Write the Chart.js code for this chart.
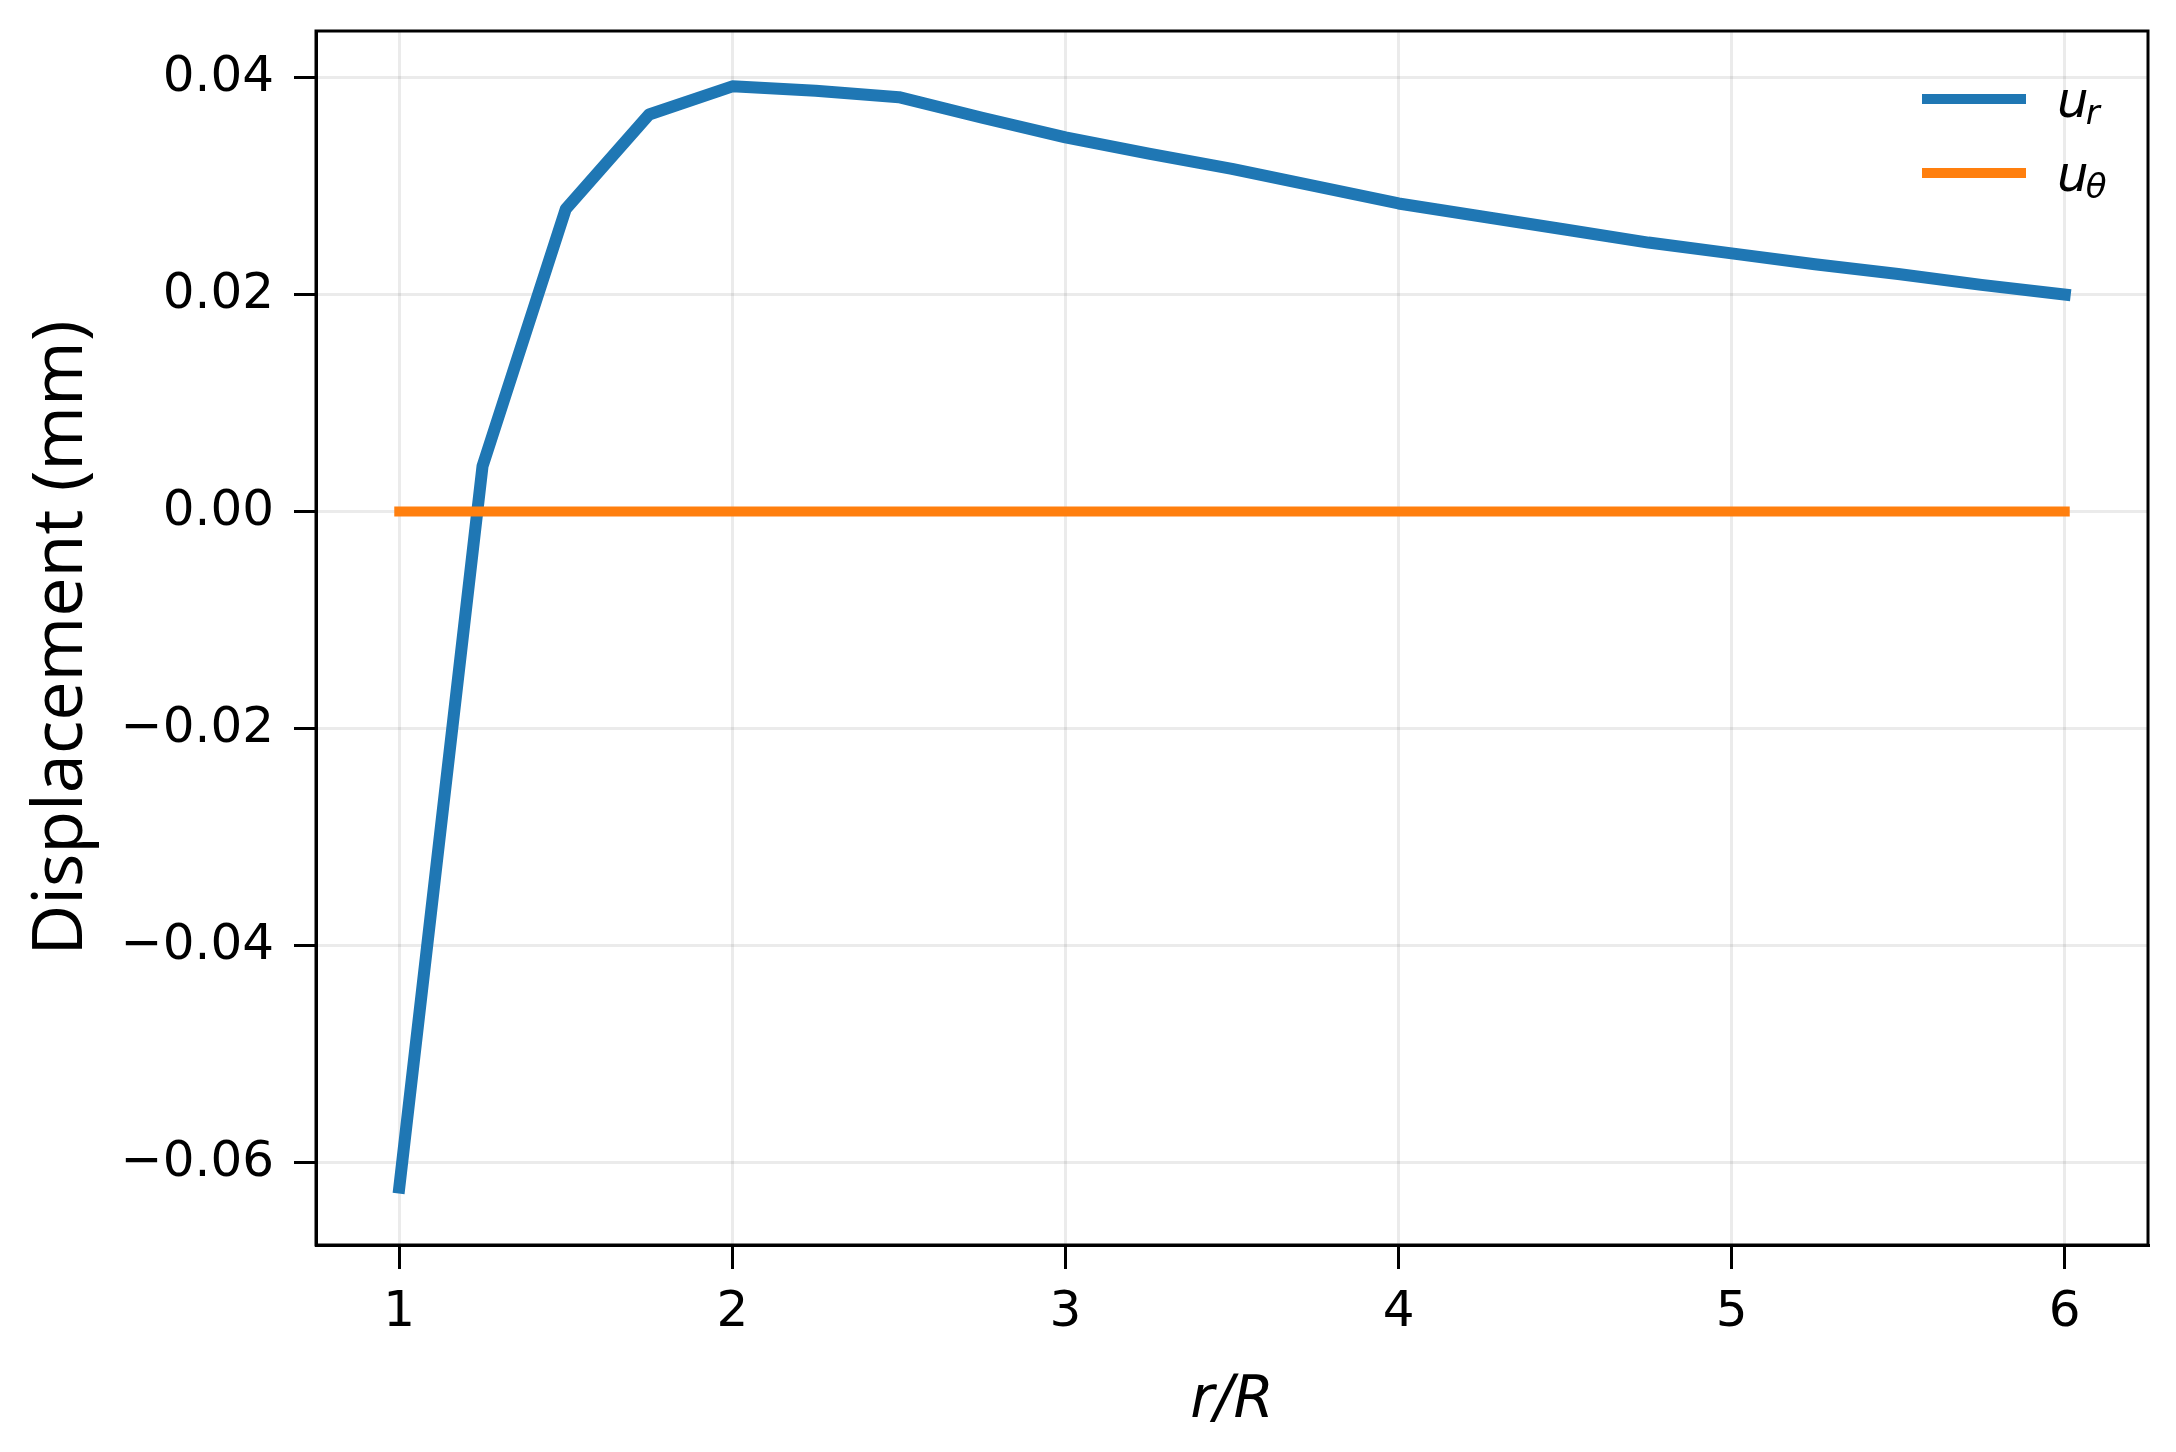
<!DOCTYPE html>
<html>
<head>
<meta charset="utf-8">
<title>Displacement vs r/R</title>
<script src="https://cdn.jsdelivr.net/npm/chart.js@4.4.1/dist/chart.umd.min.js"></script>
<style>
    html, body { margin: 0; padding: 0; background: #fff; }
    #wrap { width: 2176px; height: 1452px; }
</style>
</head>
<body>
<div id="wrap"><canvas id="disp-chart" width="2176" height="1452"></canvas></div>
<script>
/* ===== Data ===== */
var radii = [1, 1.25, 1.5, 1.75, 2, 2.25, 2.5, 2.75, 3, 3.25, 3.5, 3.75, 4, 4.25, 4.5, 4.75, 5, 5.25, 5.5, 5.75, 6];
var radialDisp = [-0.0623, 0.0042, 0.0279, 0.0366, 0.0392, 0.0388, 0.0382, 0.0363, 0.0345, 0.0330, 0.0316, 0.0300,
    0.0284, 0.0272, 0.0260, 0.0248, 0.0238, 0.0228, 0.0219, 0.0209, 0.0200];
var hoopDisp = [0, 0, 0, 0, 0, 0, 0, 0, 0, 0, 0, 0, 0, 0, 0, 0, 0, 0, 0, 0, 0];

var seriesLabels = ["u_r", "u_θ"];
var seriesColors = ["#1f77b4", "#ff7f0e"];

var xTicks = [1, 2, 3, 4, 5, 6];
var yTicks = [-0.06, -0.04, -0.02, 0, 0.02, 0.04];
var yTickLabels = ["\u22120.06", "\u22120.04", "\u22120.02", "0.00", "0.02", "0.04"];

(function () {
    "use strict";

    var TICK_FONT = { family: "'DejaVu Sans'", size: 50 };

    function toPoints(xs, ys) {
        return xs.map(function (x, i) { return { x: x, y: ys[i] }; });
    }

    /* --- Box around the plot area (matplotlib style spines) --- */
    var framePlugin = {
        id: "frame",
        afterDraw: function (chart) {
            var a = chart.chartArea, ctx = chart.ctx;
            ctx.save();
            ctx.strokeStyle = "#000";
            ctx.lineWidth = 3;
            ctx.strokeRect(a.left, a.top, a.right - a.left, a.bottom - a.top);
            ctx.restore();
        }
    };

    /* --- Legend inside the axes, upper right, with subscripts --- */
    var innerLegend = {
        id: "innerLegend",
        afterDatasetsDraw: function (chart) {
            var ctx = chart.ctx, a = chart.chartArea;
            var lineLen = 104, x0 = a.right - 226, y0 = a.top + 68, rowGap = 74;
            chart.data.datasets.forEach(function (ds, i) {
                var y = y0 + i * rowGap;
                var parts = ds.label.split("_");
                ctx.save();
                ctx.strokeStyle = ds.borderColor;
                ctx.lineWidth = 10;
                ctx.lineCap = "butt";
                ctx.beginPath();
                ctx.moveTo(x0, y);
                ctx.lineTo(x0 + lineLen, y);
                ctx.stroke();

                var tx = x0 + lineLen + 31, base = y + 18;
                ctx.fillStyle = "#000";
                ctx.textBaseline = "alphabetic";
                ctx.textAlign = "left";
                ctx.font = "italic 50px 'DejaVu Sans'";
                ctx.fillText(parts[0], tx, base);
                var w = ctx.measureText(parts[0]).width;
                ctx.font = "italic 34px 'DejaVu Sans'";
                ctx.fillText(parts[1] || "", tx + w - 3, base + 7);
                ctx.restore();
            });
        }
    };

    Chart.defaults.color = "#000";

    new Chart(document.getElementById("disp-chart"), {
        type: "line",
        data: {
            datasets: [
                {
                    label: seriesLabels[0],
                    data: toPoints(radii, radialDisp),
                    borderColor: seriesColors[0],
                    backgroundColor: seriesColors[0],
                    borderWidth: 12,
                    borderCapStyle: "square",
                    borderJoinStyle: "round",
                    pointRadius: 0,
                    tension: 0,
                    fill: false,
                    order: 1
                },
                {
                    label: seriesLabels[1],
                    data: toPoints(radii, hoopDisp),
                    borderColor: seriesColors[1],
                    backgroundColor: seriesColors[1],
                    borderWidth: 10,
                    borderCapStyle: "square",
                    pointRadius: 0,
                    tension: 0,
                    fill: false,
                    order: 0
                }
            ]
        },
        options: {
            responsive: false,
            animation: false,
            devicePixelRatio: 1,
            layout: { padding: { top: 31, right: 28, left: 0, bottom: 0 } },
            plugins: {
                legend: { display: false },
                tooltip: { enabled: false }
            },
            scales: {
                x: {
                    type: "linear",
                    min: 0.75,
                    max: 6.25,
                    afterBuildTicks: function (axis) {
                        axis.ticks = xTicks.map(function (v) { return { value: v }; });
                    },
                    afterFit: function (axis) {
                        axis.height = 207;
                        axis.paddingLeft = 0;
                        axis.paddingRight = 0;
                    },
                    ticks: {
                        font: TICK_FONT,
                        color: "#000",
                        padding: 14,
                        maxRotation: 0,
                        callback: function (val) { return String(val); }
                    },
                    grid: {
                        color: "rgba(0,0,0,0.08)",
                        lineWidth: 3,
                        tickLength: 24,
                        tickColor: "#000",
                        tickWidth: 3
                    },
                    border: { display: true, color: "#000", width: 3 },
                    title: {
                        display: true,
                        text: "r/R",
                        font: { family: "'DejaVu Sans'", size: 58, style: "italic" },
                        color: "#000",
                        padding: { top: 0, bottom: 15 }
                    }
                },
                y: {
                    type: "linear",
                    min: -0.0676,
                    max: 0.0443,
                    afterBuildTicks: function (axis) {
                        axis.ticks = yTicks.map(function (v) { return { value: v }; });
                    },
                    afterFit: function (axis) {
                        axis.width = 316;
                        axis.paddingTop = 0;
                        axis.paddingBottom = 0;
                    },
                    ticks: {
                        font: TICK_FONT,
                        color: "#000",
                        padding: 20,
                        callback: function (val) {
                            var idx = yTicks.indexOf(val);
                            return idx >= 0 ? yTickLabels[idx] : "";
                        }
                    },
                    grid: {
                        color: "rgba(0,0,0,0.08)",
                        lineWidth: 3,
                        tickLength: 22,
                        tickColor: "#000",
                        tickWidth: 3
                    },
                    border: { display: true, color: "#000", width: 3 },
                    title: {
                        display: true,
                        text: "Displacement (mm)",
                        font: { family: "'Open Sans'", size: 70 },
                        color: "#000",
                        padding: { top: 20, bottom: 0 }
                    }
                }
            }
        },
        plugins: [framePlugin, innerLegend]
    });
})();
</script>
</body>
</html>
